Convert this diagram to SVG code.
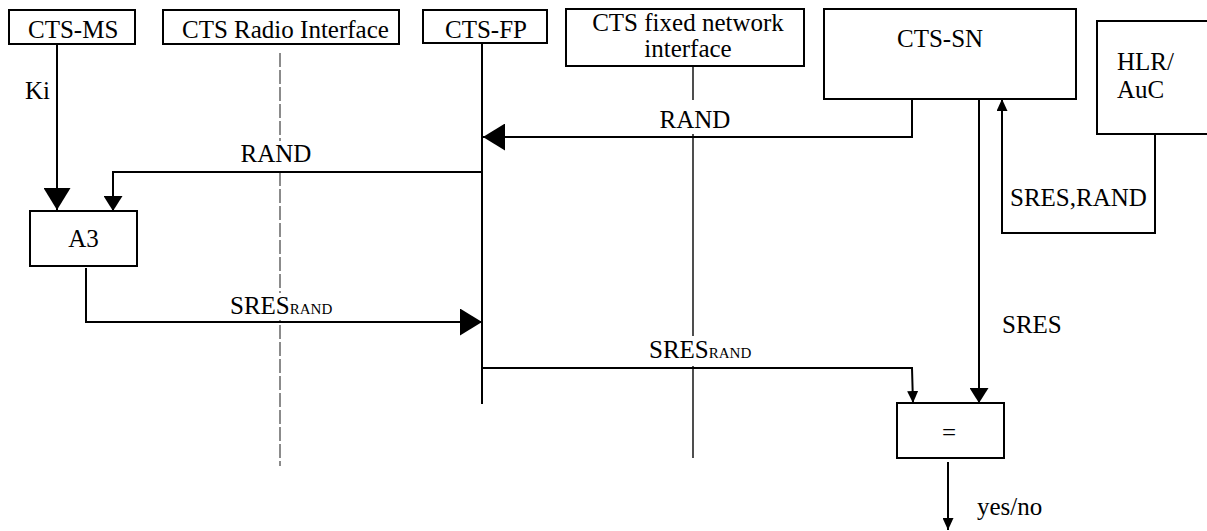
<svg xmlns="http://www.w3.org/2000/svg" width="1207" height="531" viewBox="0 0 1207 531">
<style>
text{font-family:"Liberation Serif","Times New Roman",Times,Tinos,"Noto Serif","DejaVu Serif",serif;font-size:25px;fill:#000}
.sub{font-size:15px}
.box{fill:#fff;stroke:#000;stroke-width:2}
.ln{fill:none;stroke:#000;stroke-width:2}
.life{fill:none;stroke:#222;stroke-width:1.6}
.dash{fill:none;stroke:#666;stroke-width:1.5;stroke-dasharray:14 3}
.bg{fill:#fff}
</style>
<defs>
<marker id="big" markerUnits="userSpaceOnUse" viewBox="0 0 22 27" markerWidth="22" markerHeight="27" refX="22" refY="13.5" orient="auto"><path d="M0,0 L22,13.5 L0,27 z" fill="#000"/></marker>
<marker id="mid" markerUnits="userSpaceOnUse" viewBox="0 0 15 19" markerWidth="15" markerHeight="19" refX="15" refY="9.5" orient="auto"><path d="M0,0 L15,9.5 L0,19 z" fill="#000"/></marker>
<marker id="sml" markerUnits="userSpaceOnUse" viewBox="0 0 12 11" markerWidth="12" markerHeight="11" refX="12" refY="5.5" orient="auto"><path d="M0,0 L12,5.5 L0,11 z" fill="#000"/></marker>
</defs>

<g id="lifelines">
<line class="dash" x1="280" y1="53" x2="280" y2="466"/>
<line class="ln" x1="482" y1="43" x2="482" y2="404"/>
<line class="life" x1="693" y1="66" x2="693" y2="458"/>
</g>

<g id="label-backgrounds">
<rect class="bg" x="236" y="141" width="80" height="28"/>
<rect class="bg" x="655" y="100" width="81" height="34"/>
<rect class="bg" x="226" y="293" width="114" height="27"/>
<rect class="bg" x="645" y="336" width="114" height="30"/>
</g>

<g id="cts-ms">
<rect class="box" x="9" y="10" width="126" height="34"/>
<text x="28" y="38" font-family="Liberation Serif, serif">CTS-MS</text>
</g>
<g id="cts-radio-interface">
<rect class="box" x="163" y="10" width="236" height="34"/>
<text x="182" y="38">CTS Radio Interface</text>
</g>
<g id="cts-fp">
<rect class="box" x="423" y="10" width="124" height="33"/>
<text x="445" y="38">CTS-FP</text>
</g>
<g id="cts-fixed-network-interface">
<rect class="box" x="566" y="9" width="238" height="57"/>
<text x="688" y="31" text-anchor="middle">CTS fixed network</text>
<text x="688" y="57" text-anchor="middle">interface</text>
</g>
<g id="cts-sn">
<rect class="box" x="824" y="9" width="252" height="90"/>
<text x="897" y="47">CTS-SN</text>
</g>
<g id="hlr-auc">
<rect class="box" x="1097" y="21" width="120" height="113"/>
<text x="1117" y="70">HLR/</text>
<text x="1117" y="98">AuC</text>
</g>
<g id="a3">
<rect class="box" x="30" y="211" width="107" height="55"/>
<text x="83.5" y="247" text-anchor="middle">A3</text>
</g>
<g id="equals">
<rect class="box" x="897" y="403" width="107" height="55"/>
<text x="949" y="441" text-anchor="middle">=</text>
</g>

<g id="connectors">
<path class="ln" d="M57,44 V210" marker-end="url(#big)"/>
<path class="ln" d="M912,99 V137 H483" marker-end="url(#big)"/>
<path class="ln" d="M482,172 H113 V211" marker-end="url(#mid)"/>
<path class="ln" d="M86,268 V322 H482" marker-end="url(#big)"/>
<path class="ln" d="M482,368 H912 L913,403" marker-end="url(#sml)"/>
<path class="ln" d="M979,99 V403" marker-end="url(#mid)"/>
<path class="ln" d="M1155,134 V233 H1002 V99" marker-end="url(#sml)"/>
<path class="ln" d="M948,462 V530" marker-end="url(#sml)"/>
</g>

<g id="labels">
<text x="25" y="99">Ki</text>
<text x="276" y="162" text-anchor="middle">RAND</text>
<text x="695" y="128" text-anchor="middle">RAND</text>
<text x="230" y="314">SRES<tspan class="sub">RAND</tspan></text>
<text x="649" y="358">SRES<tspan class="sub">RAND</tspan></text>
<text x="1002" y="333">SRES</text>
<text x="1010" y="206">SRES,RAND</text>
<text x="977" y="515">yes/no</text>
</g>
</svg>
